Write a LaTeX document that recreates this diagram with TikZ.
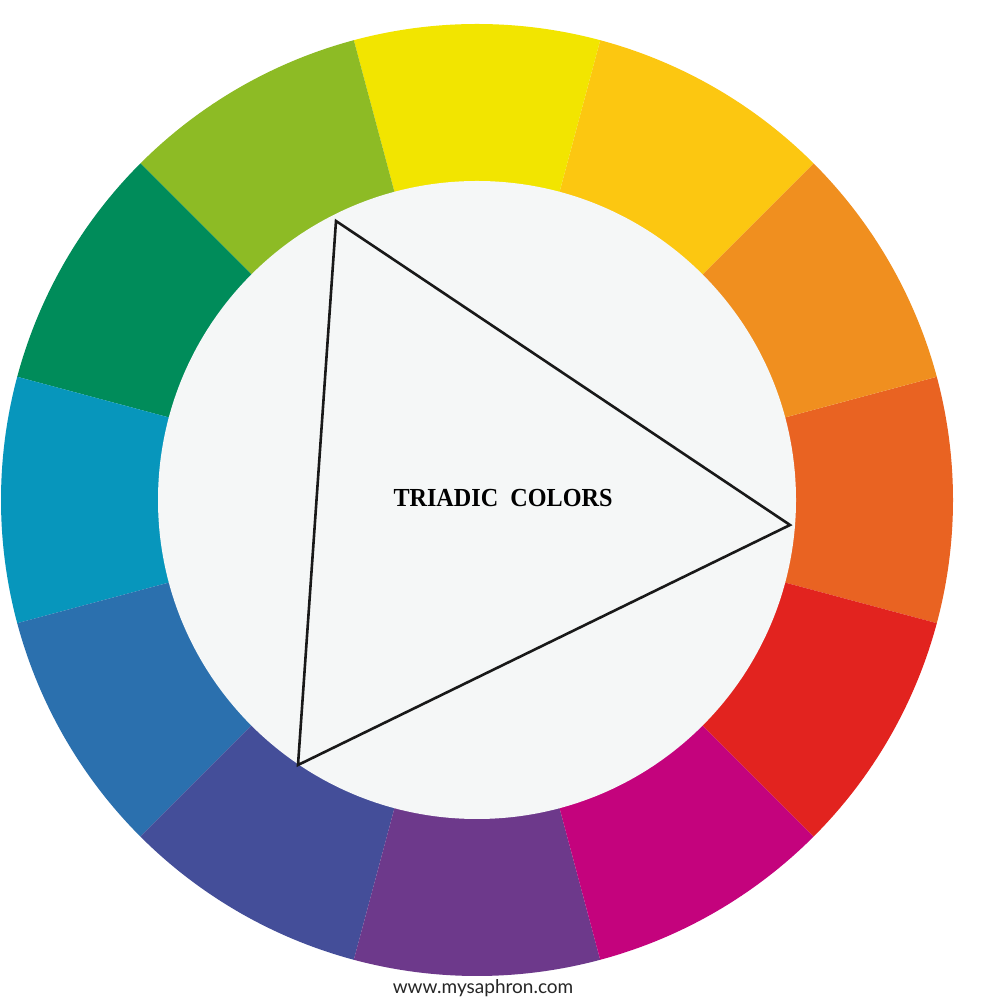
\documentclass[tikz,border=0pt]{standalone}
\usepackage{fontspec}
\setmainfont{Liberation Serif}
\newfontfamily\webfont{Lato}
\definecolor{cY}{HTML}{F2E500}
\definecolor{cYO}{HTML}{FCC711}
\definecolor{cO}{HTML}{F08F1F}
\definecolor{cRO}{HTML}{E96322}
\definecolor{cR}{HTML}{E2231F}
\definecolor{cM}{HTML}{C4037D}
\definecolor{cP}{HTML}{6D398B}
\definecolor{cI}{HTML}{444E99}
\definecolor{cB}{HTML}{2B70AE}
\definecolor{cC}{HTML}{0796BC}
\definecolor{cG}{HTML}{008C5A}
\definecolor{cYG}{HTML}{8DBB25}
\definecolor{inner}{HTML}{F5F7F7}
\begin{document}
\begin{tikzpicture}[x=1pt,y=1pt,
  tri/.style={draw=black!90,line width=2.6pt,line join=miter},
  title/.style={font=\bfseries\fontsize{26}{30}\selectfont,xscale=0.93},
  web/.style={font=\webfont\fontsize{19}{22}\selectfont,text=black!85}]
\useasboundingbox[fill=white] (0,0) rectangle (1000,1000);
\coordinate (c) at (477,500);
\foreach \a/\col in {0/cRO,30/cO,60/cYO,90/cY,120/cYG,150/cG,180/cC,210/cB,240/cI,270/cP,300/cM,330/cR}{
  \fill[\col] (c) -- ++(\a-15:476) arc[start angle=\a-15,end angle=\a+15,radius=476] -- cycle;
}
\fill[inner] (c) circle[radius=319];
\coordinate (t1) at (336,779);
\coordinate (t2) at (790,475);
\coordinate (t3) at (298,235);
\draw[tri] (t1) -- (t2) -- (t3) -- cycle;
\node[title] (lbl) at (503,502) {TRIADIC\ \ COLORS};
\node[web] (site) at (483,12) {www.mysaphron.com};
\end{tikzpicture}
\end{document}
